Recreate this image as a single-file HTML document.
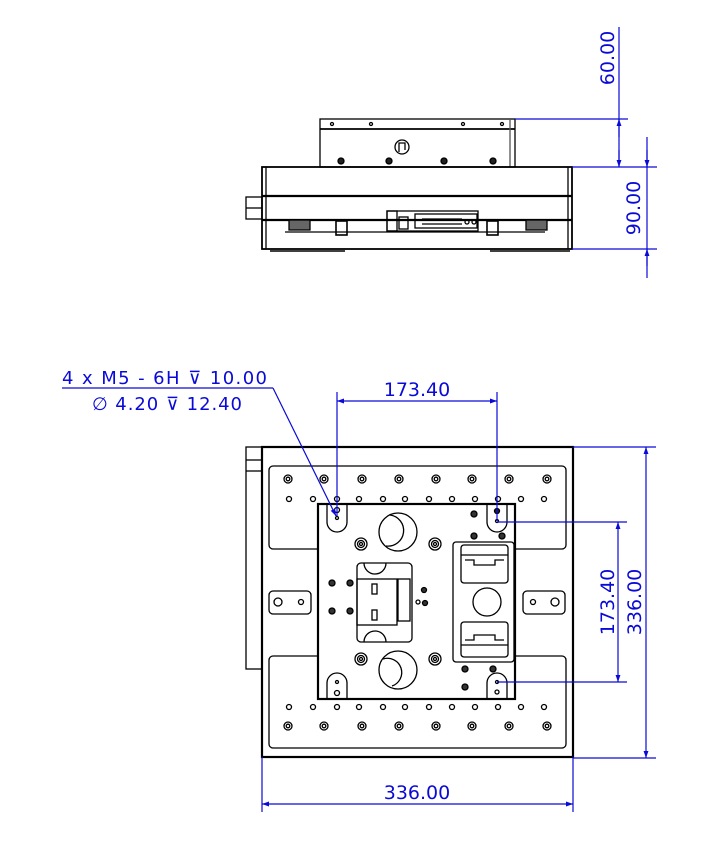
<!DOCTYPE html>
<html><head><meta charset="utf-8"><style>
html,body{margin:0;padding:0;background:#fff;}
svg{display:block;}
text{font-family:"DejaVu Sans","Liberation Sans",sans-serif;fill:#0a0ad8;}
</style></head><body>
<svg width="723" height="852" viewBox="0 0 723 852" xmlns="http://www.w3.org/2000/svg">
<defs>
<marker id="a" viewBox="0 0 10 10" refX="10" refY="5" markerWidth="16" markerHeight="7" orient="auto-start-reverse" markerUnits="userSpaceOnUse"><path d="M0,1.5 L10,5 L0,8.5 z" fill="#0a0ad8"/></marker>
</defs>
<g fill="none" stroke="#000" stroke-width="1.3">
<!-- TOP VIEW -->
<rect x="320" y="119" width="195" height="48"/>
<line x1="320" y1="129" x2="515" y2="129" stroke-width="1.8"/>
<line x1="510" y1="119" x2="510" y2="167" stroke="#555"/>
<circle cx="332" cy="124" r="1.5"/><circle cx="371" cy="124" r="1.5"/><circle cx="463" cy="124" r="1.5"/><circle cx="502" cy="124" r="1.5"/>
<circle cx="402" cy="147" r="7"/><path d="M399,152 V143 H405 V150"/>
<g fill="#222"><circle cx="341" cy="161" r="3"/><circle cx="389" cy="161" r="3"/><circle cx="444" cy="161" r="3"/><circle cx="493" cy="161" r="3"/></g>
<rect x="262" y="167" width="310" height="82" stroke-width="1.8"/>
<line x1="266" y1="167" x2="266" y2="249"/><line x1="568" y1="167" x2="568" y2="249"/>
<line x1="262" y1="196" x2="572" y2="196" stroke-width="2.2"/>
<line x1="262" y1="220" x2="572" y2="220" stroke-width="2.2"/>
<line x1="285" y1="232" x2="545" y2="232"/>
<rect x="246" y="197" width="16" height="22"/><line x1="246" y1="208" x2="262" y2="208"/>
<rect x="289" y="220" width="21" height="10" fill="#666"/>
<rect x="526" y="220" width="21" height="10" fill="#666"/>
<rect x="336" y="221" width="11" height="14" stroke-width="1.6"/>
<rect x="487" y="221" width="11" height="14" stroke-width="1.6"/>
<rect x="387" y="211" width="91" height="20"/>
<rect x="387" y="211" width="10" height="20"/>
<rect x="399" y="217" width="9" height="12"/>
<rect x="415" y="214" width="62" height="14"/>
<line x1="422" y1="219" x2="462" y2="219"/><line x1="422" y1="224" x2="462" y2="224"/>
<circle cx="467" cy="222" r="2"/><circle cx="474" cy="222" r="2"/>
<line x1="270" y1="251" x2="345" y2="251" stroke-width="1.6"/>
<line x1="490" y1="251" x2="570" y2="251" stroke-width="1.6"/>

<!-- BOTTOM VIEW -->
<rect x="246" y="447" width="16" height="222"/>
<line x1="246" y1="460" x2="262" y2="460"/><line x1="246" y1="471" x2="262" y2="471"/>
<rect x="262" y="447" width="311" height="310" stroke-width="2.2"/>
<rect x="269" y="466" width="297" height="83" rx="4"/>
<rect x="269" y="656" width="297" height="92" rx="4"/>
<rect x="269" y="591" width="42" height="23" rx="4"/>
<rect x="523" y="591" width="42" height="23" rx="4"/>
<circle cx="278" cy="602" r="4"/><circle cx="301" cy="602" r="2.5"/>
<circle cx="533" cy="602" r="2.5"/><circle cx="555" cy="602" r="4"/>
<g id="big">
<circle cx="288" cy="479" r="4"/><circle cx="288" cy="479" r="1.8"/>
<circle cx="324" cy="479" r="4"/><circle cx="324" cy="479" r="1.8"/>
<circle cx="362" cy="479" r="4"/><circle cx="362" cy="479" r="1.8"/>
<circle cx="399" cy="479" r="4"/><circle cx="399" cy="479" r="1.8"/>
<circle cx="436" cy="479" r="4"/><circle cx="436" cy="479" r="1.8"/>
<circle cx="472" cy="479" r="4"/><circle cx="472" cy="479" r="1.8"/>
<circle cx="509" cy="479" r="4"/><circle cx="509" cy="479" r="1.8"/>
<circle cx="547" cy="479" r="4"/><circle cx="547" cy="479" r="1.8"/>
</g>
<use href="#big" transform="translate(0,247)"/>
<g id="sm">
<circle cx="289" cy="499" r="2.5"/><circle cx="313" cy="499" r="2.5"/><circle cx="337" cy="499" r="2.5"/><circle cx="359" cy="499" r="2.5"/><circle cx="383" cy="499" r="2.5"/><circle cx="405" cy="499" r="2.5"/><circle cx="429" cy="499" r="2.5"/><circle cx="452" cy="499" r="2.5"/><circle cx="475" cy="499" r="2.5"/><circle cx="498" cy="499" r="2.5"/><circle cx="521" cy="499" r="2.5"/><circle cx="544" cy="499" r="2.5"/>
</g>
<use href="#sm" transform="translate(0,208)"/>
<!-- center plate -->
<rect x="318" y="504" width="197" height="195" fill="#fff" stroke-width="2.2"/>
<path d="M327,504 V522 A10,10 0 0 0 347,522 V504"/>
<path d="M487,504 V522 A10,10 0 0 0 507,522 V504"/>
<path d="M327,699 V683 A10,10 0 0 1 347,683 V699"/>
<path d="M487,699 V683 A10,10 0 0 1 507,683 V699"/>
<circle cx="337" cy="510" r="2.5"/><circle cx="337" cy="518" r="1.5"/>
<circle cx="497" cy="511" r="2.5" fill="#222"/><circle cx="497" cy="521" r="1.5"/>
<circle cx="337" cy="682" r="1.5"/><circle cx="337" cy="693" r="2.5"/>
<circle cx="497" cy="682" r="1.5"/><circle cx="497" cy="692" r="2"/>
<circle cx="398" cy="532" r="19"/><path d="M390,515 A14,14 0 0 1 386,546"/>
<circle cx="398" cy="670" r="19"/><path d="M383,659 A14,14 0 0 1 392,686"/>
<g id="bolt"><circle cx="361" cy="544" r="6"/><circle cx="361" cy="544" r="3.5"/><circle cx="361" cy="544" r="1.5"/></g>
<use href="#bolt" transform="translate(74,0)"/><use href="#bolt" transform="translate(0,115)"/><use href="#bolt" transform="translate(74,115)"/>
<g fill="#333">
<circle cx="332" cy="583" r="3"/><circle cx="350" cy="583" r="3"/><circle cx="332" cy="611" r="3"/><circle cx="350" cy="611" r="3"/>
<circle cx="424" cy="590" r="2.5"/><circle cx="425" cy="603" r="2.5"/>
<circle cx="474" cy="514" r="3"/><circle cx="474" cy="536" r="3"/><circle cx="502" cy="536" r="3"/>
<circle cx="465" cy="669" r="3"/><circle cx="493" cy="669" r="3"/><circle cx="465" cy="687" r="3"/>
</g>
<circle cx="418" cy="602" r="2"/>
<rect x="357" y="563" width="55" height="79" rx="4"/>
<path d="M364,563 A11,11 0 0 0 386,563"/><path d="M364,642 A11,11 0 0 1 386,642"/>
<rect x="357" y="579" width="40" height="46"/>
<rect x="398" y="579" width="12" height="42"/>
<rect x="372" y="584" width="5" height="10"/><rect x="372" y="610" width="5" height="10"/>
<rect x="453" y="542" width="61" height="120" rx="3"/>
<rect x="461" y="545" width="47" height="38" rx="3"/>
<rect x="461" y="622" width="47" height="35" rx="3"/>
<line x1="461" y1="555" x2="508" y2="555"/><line x1="461" y1="645" x2="508" y2="645"/>
<circle cx="487" cy="602" r="14"/>
<path d="M465,560 H474 V565 H495 V560 H504" /><path d="M465,640 H474 V635 H495 V640 H504"/>
</g>

<!-- DIMENSIONS -->
<g stroke="#0a0ad8" stroke-width="1.2" fill="none">
<line x1="515" y1="119" x2="628" y2="119"/>
<line x1="619" y1="27" x2="619" y2="167" />
<line x1="619" y1="137" x2="619" y2="119" marker-end="url(#a)"/>
<line x1="619" y1="150" x2="619" y2="167" marker-end="url(#a)"/>
<line x1="572" y1="167" x2="657" y2="167"/>
<line x1="572" y1="249" x2="657" y2="249"/>
<line x1="647" y1="137" x2="647" y2="278"/>
<line x1="647" y1="150" x2="647" y2="167" marker-end="url(#a)"/>
<line x1="647" y1="266" x2="647" y2="249" marker-end="url(#a)"/>

<line x1="337" y1="392" x2="337" y2="516"/>
<line x1="497" y1="392" x2="497" y2="521"/>
<line x1="337" y1="401" x2="497" y2="401" marker-start="url(#a)" marker-end="url(#a)"/>
<line x1="497" y1="522" x2="627" y2="522"/>
<line x1="497" y1="682" x2="627" y2="682"/>
<line x1="618" y1="522" x2="618" y2="682" marker-start="url(#a)" marker-end="url(#a)"/>
<line x1="573" y1="447" x2="656" y2="447"/>
<line x1="573" y1="758" x2="656" y2="758"/>
<line x1="646" y1="447" x2="646" y2="758" marker-start="url(#a)" marker-end="url(#a)"/>
<line x1="262" y1="757" x2="262" y2="812"/>
<line x1="573" y1="757" x2="573" y2="812"/>
<line x1="262" y1="804" x2="573" y2="804" marker-start="url(#a)" marker-end="url(#a)"/>
<line x1="62" y1="388" x2="273" y2="388"/>
<line x1="273" y1="388" x2="336" y2="516" marker-end="url(#a)"/>
</g>
<g font-size="19">
<text x="417" y="396" text-anchor="middle">173.40</text>
<text x="417" y="799" text-anchor="middle">336.00</text>
<text transform="translate(614,602) rotate(-90)" text-anchor="middle">173.40</text>
<text transform="translate(641,602) rotate(-90)" text-anchor="middle">336.00</text>
<text transform="translate(614,58) rotate(-90)" text-anchor="middle">60.00</text>
<text transform="translate(640,208) rotate(-90)" text-anchor="middle">90.00</text>
<text x="62" y="384" font-size="18" textLength="205">4 x  M5 - 6H ⊽ 10.00</text>
<text x="92" y="410" font-size="18" textLength="150">∅ 4.20 ⊽ 12.40</text>
</g>
</svg>
</body></html>
